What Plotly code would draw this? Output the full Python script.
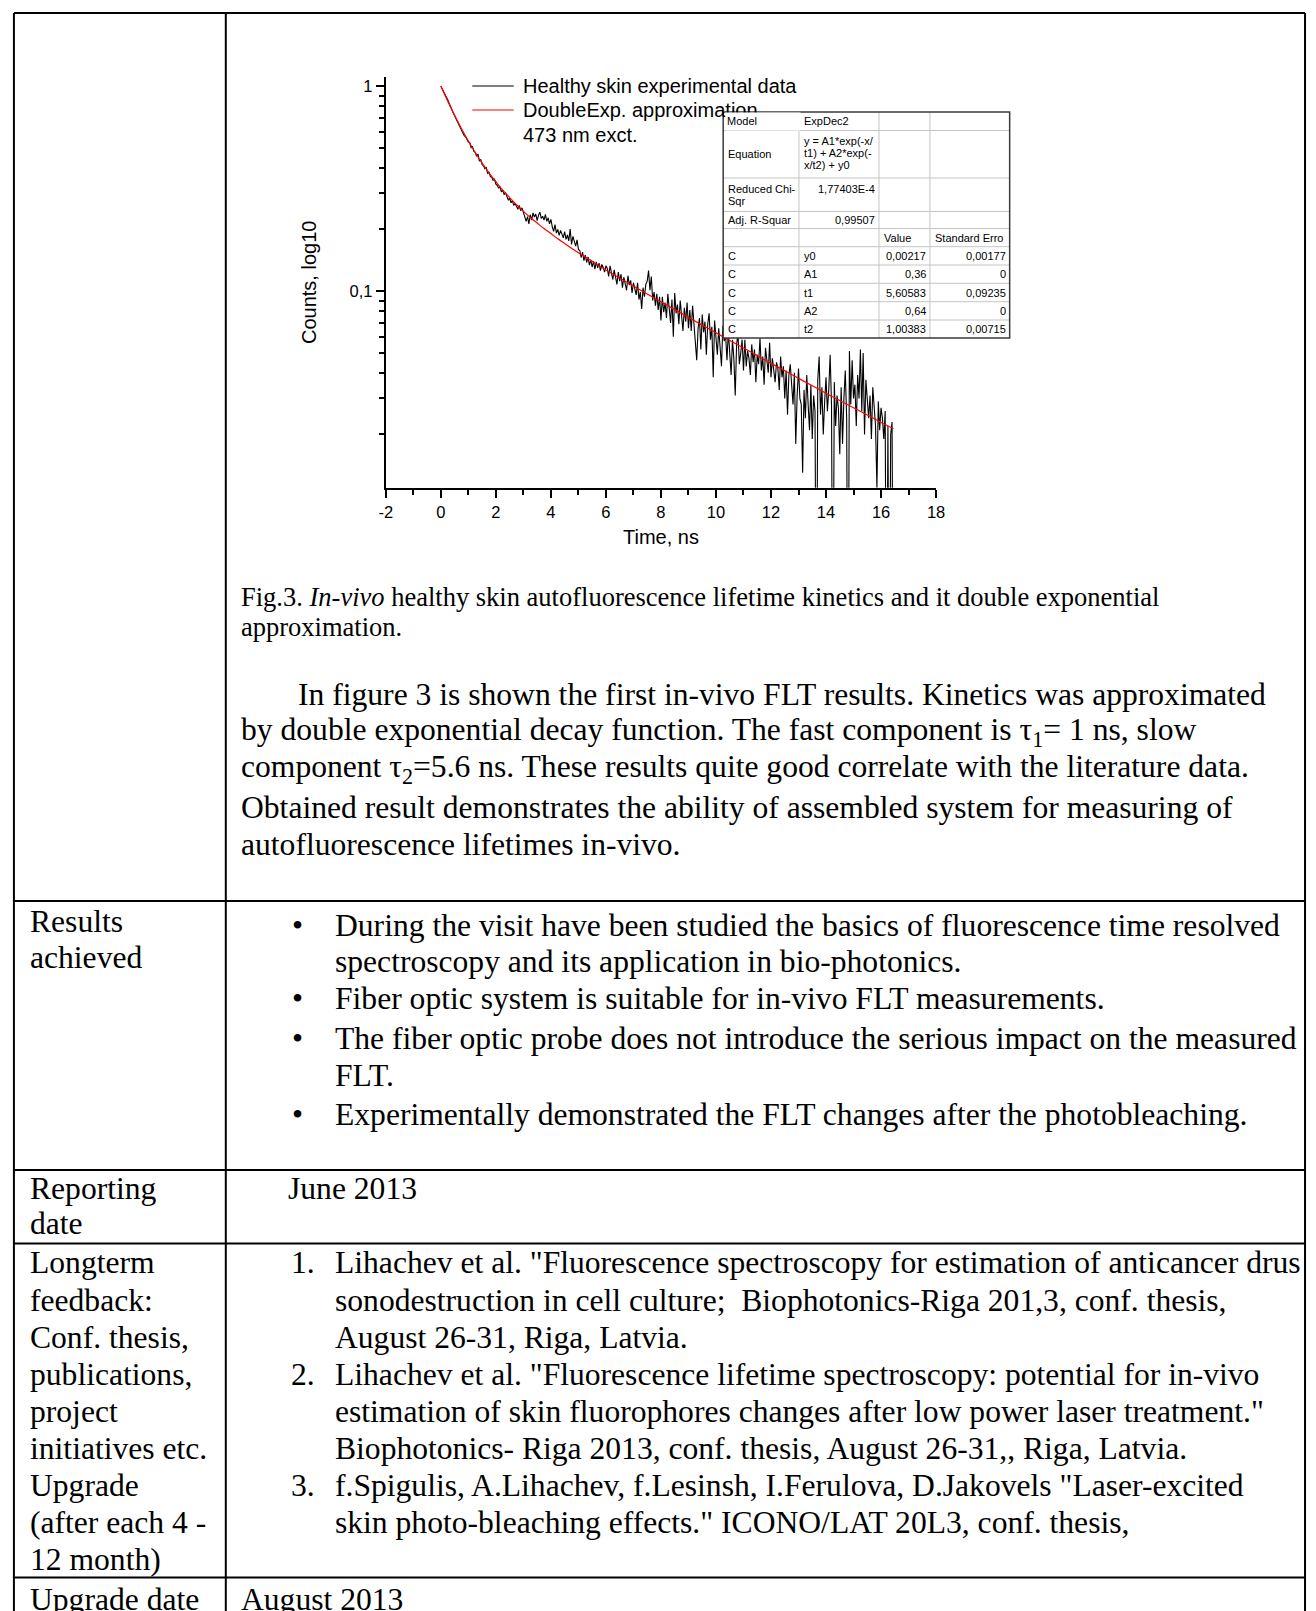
import plotly.graph_objects as go

# ---------------- data ----------------
# measured decay, sampled every 0.05 ns starting at 0 ns
time_start = 0.0
time_step = 0.05
counts = [
    # 0.00 - 0.95
    1.000, 0.972, 0.941, 0.915, 0.886, 0.858, 0.826, 0.801, 0.770, 0.739,
    0.716, 0.690, 0.668, 0.655, 0.629, 0.607, 0.596, 0.573, 0.566, 0.548,
    # 1.00 - 1.95
    0.534, 0.530, 0.501, 0.507, 0.481, 0.476, 0.455, 0.466, 0.431, 0.440,
    0.415, 0.409, 0.396, 0.401, 0.374, 0.382, 0.362, 0.359, 0.347, 0.352,
    # 2.00 - 2.95
    0.333, 0.328, 0.319, 0.322, 0.305, 0.311, 0.296, 0.302, 0.287, 0.279,
    0.284, 0.270, 0.276, 0.262, 0.268, 0.259, 0.251, 0.262, 0.247, 0.255,
    # 3.00 - 3.95
    0.240, 0.226, 0.219, 0.231, 0.213, 0.236, 0.222, 0.241, 0.230, 0.238,
    0.221, 0.235, 0.243, 0.226, 0.232, 0.222, 0.237, 0.219, 0.228, 0.213,
    # 4.00 - 4.95
    0.224, 0.206, 0.196, 0.211, 0.192, 0.200, 0.187, 0.198, 0.190, 0.182,
    0.195, 0.179, 0.188, 0.176, 0.201, 0.169, 0.185, 0.173, 0.166, 0.178,
    # 5.00 - 5.95
    0.160, 0.158, 0.146, 0.155, 0.141, 0.150, 0.138, 0.147, 0.134, 0.142,
    0.131, 0.140, 0.128, 0.139, 0.130, 0.137, 0.126, 0.135, 0.131, 0.124,
    # 6.00 - 6.95
    0.133, 0.129, 0.118, 0.133, 0.121, 0.114, 0.127, 0.119, 0.108, 0.124,
    0.112, 0.121, 0.104, 0.117, 0.110, 0.101, 0.119, 0.107, 0.113, 0.098,
    # 7.00 - 7.95
    0.110, 0.102, 0.096, 0.110, 0.091, 0.099, 0.082, 0.104, 0.094, 0.108,
    0.112, 0.126, 0.101, 0.118, 0.090, 0.099, 0.085, 0.097, 0.081, 0.094,
    # 8.00 - 8.95
    0.072, 0.094, 0.079, 0.088, 0.074, 0.097, 0.083, 0.070, 0.091, 0.060,
    0.098, 0.078, 0.086, 0.069, 0.090, 0.075, 0.064, 0.083, 0.071, 0.088,
    # 9.00 - 9.95
    0.066, 0.081, 0.064, 0.085, 0.070, 0.058, 0.046, 0.066, 0.074, 0.052,
    0.077, 0.063, 0.071, 0.049, 0.069, 0.078, 0.058, 0.067, 0.038, 0.072,
    # 10.00 - 10.95
    0.060, 0.049, 0.066, 0.055, 0.043, 0.068, 0.057, 0.061, 0.046, 0.064,
    0.052, 0.039, 0.058, 0.047, 0.031, 0.055, 0.062, 0.044, 0.050, 0.058,
    # 11.00 - 11.95
    0.041, 0.058, 0.043, 0.051, 0.047, 0.039, 0.055, 0.045, 0.052, 0.036,
    0.049, 0.044, 0.059, 0.041, 0.048, 0.035, 0.053, 0.046, 0.040, 0.056,
    # 12.00 - 12.95
    0.038, 0.047, 0.040, 0.036, 0.045, 0.042, 0.033, 0.048, 0.038, 0.043,
    0.030, 0.041, 0.025, 0.039, 0.044, 0.034, 0.028, 0.040, 0.018, 0.031,
    # 13.00 - 13.95
    0.042, 0.030, 0.028, 0.013, 0.033, 0.024, 0.039, 0.028, 0.021, 0.035,
    0.019, 0.031, 0.026, 0.001, 0.037, 0.048, 0.025, 0.034, 0.020, 0.029,
    # 14.00 - 14.95
    0.038, 0.026, 0.033, 0.049, 0.028, 0.001, 0.036, 0.022, 0.031, 0.027,
    0.016, 0.034, 0.018, 0.030, 0.041, 0.024, 0.001, 0.051, 0.028, 0.046,
    # 15.00 - 15.95
    0.030, 0.035, 0.022, 0.039, 0.030, 0.052, 0.026, 0.050, 0.020, 0.037,
    0.028, 0.024, 0.031, 0.019, 0.034, 0.026, 0.022, 0.011, 0.029, 0.021,
    # 16.00 - 16.45
    0.027, 0.024, 0.019, 0.026, 0.001, 0.022, 0.001, 0.020, 0.023, 0.001,
]

# double-exponential approximation (red curve)
fit_time = [0, 0.25, 0.5, 0.75, 1.0, 1.25, 1.5, 1.75, 2.0, 2.25, 2.5, 2.75,
            3.0, 3.25, 3.5, 3.75, 4.0, 4.25, 4.5, 4.75, 5.0, 5.25, 5.5, 5.75,
            6.0, 6.5, 7.0, 7.5, 8.0, 8.5, 9.0, 9.5, 10.0, 10.5, 11.0, 11.5,
            12.0, 12.5, 13.0, 13.5, 14.0, 14.5, 15.0, 15.5, 16.0, 16.45]
fit_counts = [1.002, 0.845, 0.721, 0.620, 0.540, 0.475, 0.421, 0.378, 0.342,
              0.311, 0.286, 0.264, 0.245, 0.229, 0.215, 0.202, 0.191, 0.180,
              0.171, 0.162, 0.154, 0.147, 0.140, 0.133, 0.127, 0.116, 0.106,
              0.097, 0.0888, 0.0813, 0.0745, 0.0683, 0.0627, 0.0575, 0.0528,
              0.0485, 0.0445, 0.0409, 0.0376, 0.0346, 0.0318, 0.0293, 0.0270,
              0.0249, 0.0229, 0.0214]

series_names = ["Healthy skin experimental data", "DoubleExp. approximation"]
legend_note = "473 nm exct."

x_ticks = [-2, 0, 2, 4, 6, 8, 10, 12, 14, 16, 18]
x_tick_labels = ["-2", "0", "2", "4", "6", "8", "10", "12", "14", "16", "18"]
y_ticks = [0.1, 1]
y_tick_labels = ["0,1", "1"]
y_minor_ticks = [0.02, 0.03, 0.04, 0.05, 0.06, 0.07, 0.08, 0.09,
                 0.2, 0.3, 0.4, 0.5, 0.6, 0.7, 0.8, 0.9]

# fit report table: (row, column, text lines, alignment)
fit_cells = [
    (0, 1, ["ExpDec2"], "left"),
    (1, 0, ["Equation"], "left"),
    (1, 1, ["y = A1*exp(-x/", "t1) + A2*exp(-", "x/t2) + y0"], "left"),
    (2, 0, ["Reduced Chi-", "Sqr"], "left"), (2, 1, ["1,77403E-4"], "right"),
    (3, 0, ["Adj. R-Squar"], "left"), (3, 1, ["0,99507"], "right"),
    (4, 2, ["Value"], "left"), (4, 3, ["Standard Erro"], "left"),
    (5, 0, ["C"], "left"), (5, 1, ["y0"], "left"), (5, 2, ["0,00217"], "right"), (5, 3, ["0,00177"], "right"),
    (6, 0, ["C"], "left"), (6, 1, ["A1"], "left"), (6, 2, ["0,36"], "right"), (6, 3, ["0"], "right"),
    (7, 0, ["C"], "left"), (7, 1, ["t1"], "left"), (7, 2, ["5,60583"], "right"), (7, 3, ["0,09235"], "right"),
    (8, 0, ["C"], "left"), (8, 1, ["A2"], "left"), (8, 2, ["0,64"], "right"), (8, 3, ["0"], "right"),
    (9, 0, ["C"], "left"), (9, 1, ["t2"], "left"), (9, 2, ["1,00383"], "right"), (9, 3, ["0,00715"], "right"),
]
fit_corner = "Model"   # first cell, drawn over the legend text like in the original

# document text
caption_lines = ["Fig.3. <i>In-vivo</i> healthy skin autofluorescence lifetime kinetics and it double exponential",
                 "approximation."]
paragraph_lines = ["In figure 3 is shown the first in-vivo FLT results. Kinetics was approximated",
                   "by double exponential decay function. The fast component is τ<sub>1</sub>= 1 ns, slow",
                   "component τ<sub>2</sub>=5.6 ns. These results quite good correlate with the literature data.",
                   "Obtained result demonstrates the ability of assembled system for measuring of",
                   "autofluorescence lifetimes in-vivo."]
left_labels = [("Results", 922), ("achieved", 957), ("Reporting", 1188), ("date", 1223),
               ("Longterm", 1262), ("feedback:", 1300), ("Conf. thesis,", 1337),
               ("publications,", 1374), ("project", 1411), ("initiatives etc.", 1448),
               ("Upgrade", 1485), ("(after each 4 -", 1522), ("12 month)", 1559),
               ("Upgrade date", 1599)]
bullet_lines = [("•", "During the visit have been studied the basics of fluorescence time resolved", 925),
                ("", "spectroscopy and its application in bio-photonics.", 961),
                ("•", "Fiber optic system is suitable for in-vivo FLT measurements.", 999),
                ("•", "The fiber optic probe does not introduce the serious impact on the measured", 1038),
                ("", "FLT.", 1075),
                ("•", "Experimentally demonstrated the FLT changes after the photobleaching.", 1114)]
reference_lines = [("1.", "Lihachev et al. \"Fluorescence spectroscopy for estimation of anticancer drus", 1262),
                   ("", "sonodestruction in cell culture;  Biophotonics-Riga 201,3, conf. thesis,", 1300),
                   ("", "August 26-31, Riga, Latvia.", 1337),
                   ("2.", "Lihachev et al. \"Fluorescence lifetime spectroscopy: potential for in-vivo", 1374),
                   ("", "estimation of skin fluorophores changes after low power laser treatment.\"", 1411),
                   ("", "Biophotonics- Riga 2013, conf. thesis, August 26-31,, Riga, Latvia.", 1448),
                   ("3.", "f.Spigulis, A.Lihachev, f.Lesinsh, I.Ferulova, D.Jakovels \"Laser-excited", 1485),
                   ("", "skin photo-bleaching effects.\" ICONO/LAT 20L3, conf. thesis,", 1522)]
reporting_date = "June 2013"
upgrade_date = "August 2013"

# ---------------- layout helpers (page pixels -> paper) ----------------
W, H = 1316, 1611
SERIF = "Liberation Serif, Times New Roman, serif"
SANS = "Liberation Sans, Arial, sans-serif"


def px(x):
    return x / W


def py(y):
    return 1 - y / H


fig = go.Figure()

fig.add_trace(go.Scatter(x0=time_start, dx=time_step, y=counts, mode="lines",
                         line=dict(color="black", width=1.1), name=series_names[0]))
fig.add_trace(go.Scatter(x=fit_time, y=fit_counts, mode="lines",
                         line=dict(color="red", width=1.2, shape="spline"), name=series_names[1]))

shapes = []
annotations = []


def hline(y, x0, x1, color="black", width=2, layer="above"):
    shapes.append(dict(type="line", xref="paper", yref="paper", x0=px(x0), x1=px(x1),
                       y0=py(y), y1=py(y), line=dict(color=color, width=width), layer=layer))


def vline(x, y0, y1, color="black", width=2, layer="above"):
    shapes.append(dict(type="line", xref="paper", yref="paper", x0=px(x), x1=px(x),
                       y0=py(y0), y1=py(y1), line=dict(color=color, width=width), layer=layer))


def txt(s, x, y, size=31.6, family=SERIF, xanchor="left", **extra):
    ann = dict(text=s, x=px(x), y=py(y), xref="paper", yref="paper",
               xanchor=xanchor, yanchor="middle", showarrow=False, borderpad=0,
               font=dict(family=family, size=size, color="black"))
    ann.update(extra)
    annotations.append(ann)


# ---- legend (two line samples + note, as in the original) ----
leg_x0, leg_x1, leg_text_x = 471, 513, 521
leg_rows = [86, 110, 135]
hline(leg_rows[0], leg_x0, leg_x1, color="black", width=1.2)
hline(leg_rows[1], leg_x0, leg_x1, color="red", width=1.2)
txt(series_names[0], leg_text_x, leg_rows[0], size=20, family=SANS)
txt(series_names[1], leg_text_x, leg_rows[1], size=20, family=SANS)
txt(legend_note, leg_text_x, leg_rows[2], size=20, family=SANS)

# ---- fit report table ----
tbl_cols = [725, 801.7, 882.7, 934.3, 1015]
tbl_rows = [112, 130.5, 178, 211.5, 228.5, 246.7, 265, 283.3, 301.7, 320, 338]
shapes.append(dict(type="rect", xref="paper", yref="paper", x0=px(tbl_cols[0]), x1=px(tbl_cols[-1]),
                   y0=py(tbl_rows[-1]), y1=py(tbl_rows[0]), fillcolor="white",
                   line=dict(width=0), layer="above"))
for yy in tbl_rows[1:-1]:
    hline(yy, tbl_cols[0], tbl_cols[-1], color="#c4c4c4", width=1)
for xx in tbl_cols[1:-1]:
    vline(xx, tbl_rows[0], tbl_rows[-1], color="#c4c4c4", width=1)
shapes.append(dict(type="rect", xref="paper", yref="paper", x0=px(tbl_cols[0]), x1=px(tbl_cols[-1]),
                   y0=py(tbl_rows[-1]), y1=py(tbl_rows[0]),
                   line=dict(color="#3a3a3a", width=1.5), layer="above"))
# corner cell as an opaque box so it hides the legend text running under the table
txt(fit_corner, tbl_cols[0] + 1.5, (tbl_rows[0] + tbl_rows[1]) / 2, size=11, family=SANS,
    width=tbl_cols[1] - tbl_cols[0] - 5, height=tbl_rows[1] - tbl_rows[0] - 4,
    bgcolor="white", borderpad=1, align="left", valign="middle")
for r, c, lines, al in fit_cells:
    top, bot = tbl_rows[r], tbl_rows[r + 1]
    n = len(lines)
    if n == 1 and r != 2:
        ys = [(top + bot) / 2]
    else:
        ys = [top + 10.5 + 12 * k for k in range(n)]
    xx = tbl_cols[c] + 4 if al == "left" else tbl_cols[c + 1] - 3
    for s, yy in zip(lines, ys):
        txt(s, xx, yy, size=11, family=SANS, xanchor=al)

# ---- page table lines ----
x_left, x_col, x_right = 7, 221.5, 1314
y_top = 13
row_lines = [901, 1170, 1243.5, 1577.5]
hline(y_top, x_left, x_right)
for yy in row_lines:
    hline(yy, x_left, x_right)
for xx in (x_left, x_col, x_right):
    vline(xx, y_top, H)

# ---- page text ----
for i, s in enumerate(caption_lines):
    txt(s, 236, 597 + 30 * i, size=26.5)
for i, s in enumerate(paragraph_lines):
    txt(s, 294 if i == 0 else 236, 694 + 37.7 * i)
for s, y in left_labels:
    txt(s, 22, y)
for b, s, y in bullet_lines:
    if b:
        txt(b, 287, y)
    txt(s, 331, y)
txt(reporting_date, 283, 1188)
for n, s, y in reference_lines:
    if n:
        txt(n, 286, y)
    txt(s, 331, y)
txt(upgrade_date, 236, 1599)

fig.update_layout(
    width=W, height=H, autosize=False,
    margin=dict(l=0, r=0, t=0, b=0),
    paper_bgcolor="white", plot_bgcolor="white",
    font=dict(family=SANS, color="black"),
    showlegend=False,
    xaxis=dict(domain=[px(383.5), px(940.5)], range=[-2, 18],
               tickmode="array", tickvals=x_ticks, ticktext=x_tick_labels,
               ticks="outside", ticklen=8, tickwidth=1.5, tickcolor="black",
               showline=True, linecolor="black", linewidth=2, mirror=False,
               showgrid=False, zeroline=False,
               tickfont=dict(family=SANS, size=16.5, color="black"),
               minor=dict(dtick=1, tick0=-1, ticks="outside", ticklen=5, tickwidth=1.5,
                          tickcolor="black", showgrid=False),
               title=dict(text="Time, ns", font=dict(family=SANS, size=20, color="black"), standoff=10)),
    yaxis=dict(domain=[py(487.7), py(76.9)], type="log",
               range=[-1.9586, 0.0453],
               tickmode="array", tickvals=y_ticks, ticktext=y_tick_labels,
               ticks="outside", ticklen=8, tickwidth=1.5, tickcolor="black",
               showline=True, linecolor="black", linewidth=2, mirror=False,
               showgrid=False, zeroline=False,
               tickfont=dict(family=SANS, size=16.5, color="black"),
               minor=dict(tickmode="array", tickvals=y_minor_ticks, ticks="outside", ticklen=5,
                          tickwidth=1.5, tickcolor="black", showgrid=False),
               title=dict(text="Counts, log10", font=dict(family=SANS, size=20, color="black"), standoff=28)),
    shapes=shapes,
    annotations=annotations,
)

fig.write_html("out.html", config={"displayModeBar": False},
               post_script="document.body.style.margin='0px';")
